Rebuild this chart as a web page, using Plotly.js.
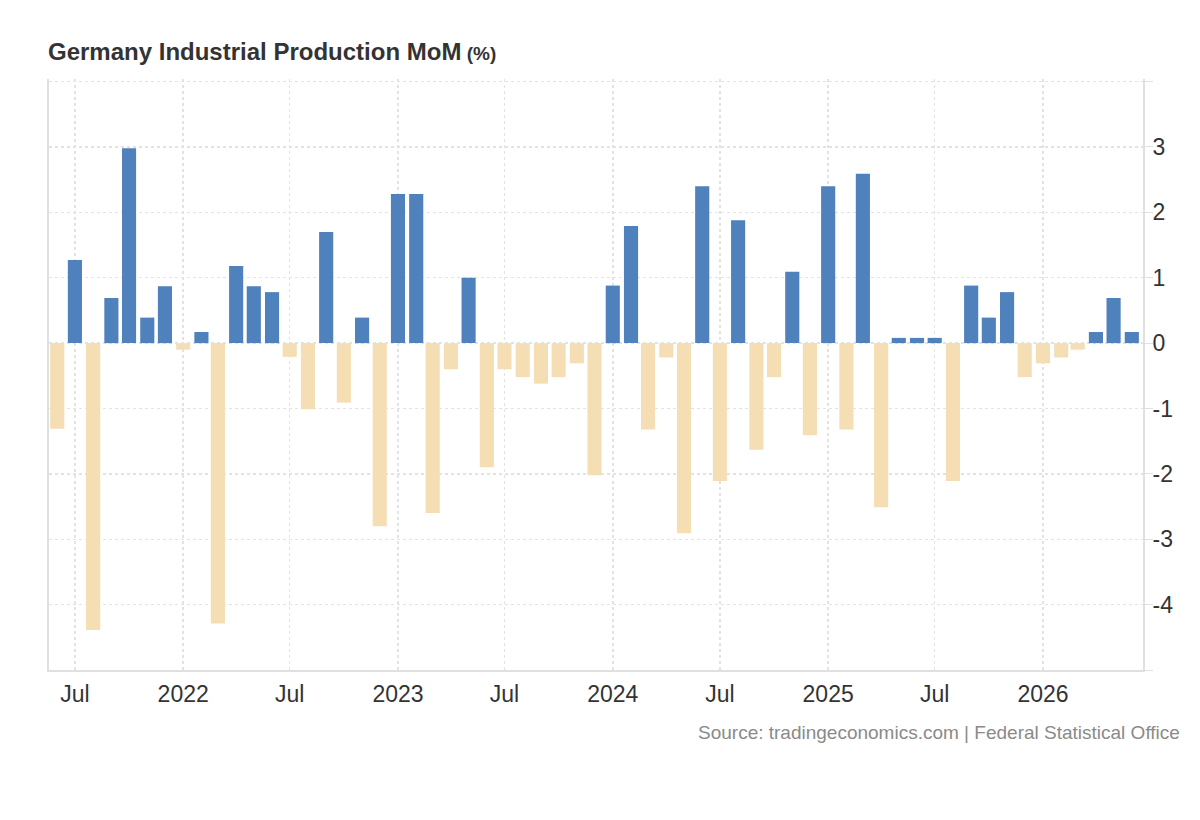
<!DOCTYPE html>
<html>
<head>
<meta charset="utf-8">
<script src="https://cdn.plot.ly/plotly-3.0.1.min.js"></script>
<style>
  html, body { margin: 0; padding: 0; background: #ffffff; }
  #chart { width: 1200px; height: 820px; }
</style>
</head>
<body>
<div id="chart"></div>
<script>
// Months (first day of month) of each observation
const months = [
  '2021-06-01','2021-07-01','2021-08-01','2021-09-01','2021-10-01','2021-11-01','2021-12-01',
  '2022-01-01','2022-02-01','2022-03-01','2022-04-01','2022-05-01','2022-06-01',
  '2022-07-01','2022-08-01','2022-09-01','2022-10-01','2022-11-01','2022-12-01',
  '2023-01-01','2023-02-01','2023-03-01','2023-04-01','2023-05-01','2023-06-01',
  '2023-07-01','2023-08-01','2023-09-01','2023-10-01','2023-11-01','2023-12-01',
  '2024-01-01','2024-02-01','2024-03-01','2024-04-01','2024-05-01','2024-06-01',
  '2024-07-01','2024-08-01','2024-09-01','2024-10-01','2024-11-01','2024-12-01',
  '2025-01-01','2025-02-01','2025-03-01','2025-04-01','2025-05-01','2025-06-01',
  '2025-07-01','2025-08-01','2025-09-01','2025-10-01','2025-11-01','2025-12-01',
  '2026-01-01','2026-02-01','2026-03-01','2026-04-01','2026-05-01','2026-06-01'
];

// Industrial production, month-over-month change (%)
const momValues = [
  -1.31, 1.27, -4.39, 0.69, 2.98, 0.39, 0.87,
  -0.10, 0.17, -4.29, 1.18, 0.87, 0.78,
  -0.21, -1.01, 1.70, -0.91, 0.39, -2.80,
  2.28, 2.28, -2.60, -0.40, 1.00, -1.90,
  -0.40, -0.52, -0.62, -0.52, -0.31, -2.02,
  0.88, 1.79, -1.32, -0.22, -2.91, 2.40,
  -2.11, 1.88, -1.63, -0.52, 1.09, -1.41,
  2.40, -1.32, 2.59, -2.51, 0.08, 0.08,
  0.08, -2.11, 0.88, 0.39, 0.78, -0.52,
  -0.31, -0.22, -0.10, 0.17, 0.69, 0.17
];

// X-axis tick positions and labels
const xTickDates = ['2021-07-01','2022-01-01','2022-07-01','2023-01-01','2023-07-01',
                    '2024-01-01','2024-07-01','2025-01-01','2025-07-01','2026-01-01'];
const xTickLabels = ['Jul','2022','Jul','2023','Jul','2024','Jul','2025','Jul','2026'];

// Y-axis ticks
const yTickValues = [-5, -4, -3, -2, -1, 0, 1, 2, 3, 4];
const yTickLabels = ['', '-4', '-3', '-2', '-1', '0', '1', '2', '3', ''];

const positiveColor = '#4f81bd';
const negativeColor = '#f5deb3';
const barColors = momValues.map(v => (v >= 0 ? positiveColor : negativeColor));

const FONT = 'Liberation Sans, Arial, Helvetica, sans-serif';
const DAY_MS = 86400000;

const trace = {
  type: 'bar',
  x: months,
  y: momValues,
  width: 24 * DAY_MS,
  marker: { color: barColors, line: { width: 0 } },
  hoverinfo: 'x+y'
};

const layout = {
  width: 1200,
  height: 820,
  paper_bgcolor: '#ffffff',
  plot_bgcolor: '#ffffff',
  margin: { l: 49, r: 57, t: 79, b: 150, pad: 0 },
  showlegend: false,
  font: { family: FONT, color: '#333333' },
  title: {
    text: '<b>Germany Industrial Production MoM</b><span style="font-size:19px"><b> (%)</b></span>',
    font: { family: FONT, size: 24, color: '#333333' },
    xref: 'container', yref: 'container',
    x: 48 / 1200, xanchor: 'left',
    y: 1 - 52 / 820, yanchor: 'middle'
  },
  xaxis: {
    type: 'date',
    range: ['2021-05-18', '2026-06-20'],
    tickmode: 'array',
    tickvals: xTickDates,
    ticktext: xTickLabels,
    tickfont: { family: FONT, size: 23, color: '#333333' },
    ticks: 'outside',
    ticklen: 2,
    tickcolor: 'rgba(0,0,0,0)',
    showgrid: true,
    gridcolor: '#e3e3e3',
    gridwidth: 1.5,
    griddash: 'dot',
    showline: true,
    linecolor: '#e0e0e0',
    linewidth: 2,
    zeroline: false,
    fixedrange: true
  },
  yaxis: {
    side: 'right',
    range: [-5, 4.04],
    tickmode: 'array',
    tickvals: yTickValues,
    ticktext: yTickLabels,
    tickfont: { family: FONT, size: 23, color: '#333333' },
    ticks: 'outside',
    ticklen: 8,
    tickwidth: 1,
    tickcolor: '#e0e0e0',
    ticklabelstandoff: -5,
    showgrid: true,
    gridcolor: '#e3e3e3',
    gridwidth: 1.5,
    griddash: 'dot',
    showline: true,
    mirror: true,
    linecolor: '#e0e0e0',
    linewidth: 2,
    zeroline: false,
    fixedrange: true
  },
  annotations: [{
    text: 'Source: tradingeconomics.com | Federal Statistical Office',
    xref: 'paper', yref: 'paper',
    x: (1182 - 49) / 1094, xanchor: 'right',
    y: (670 - 732) / 591, yanchor: 'middle',
    showarrow: false,
    font: { family: FONT, size: 19, color: '#8a8a8a' }
  }]
};

Plotly.newPlot('chart', [trace], layout, { displayModeBar: false, staticPlot: true });
</script>
</body>
</html>
